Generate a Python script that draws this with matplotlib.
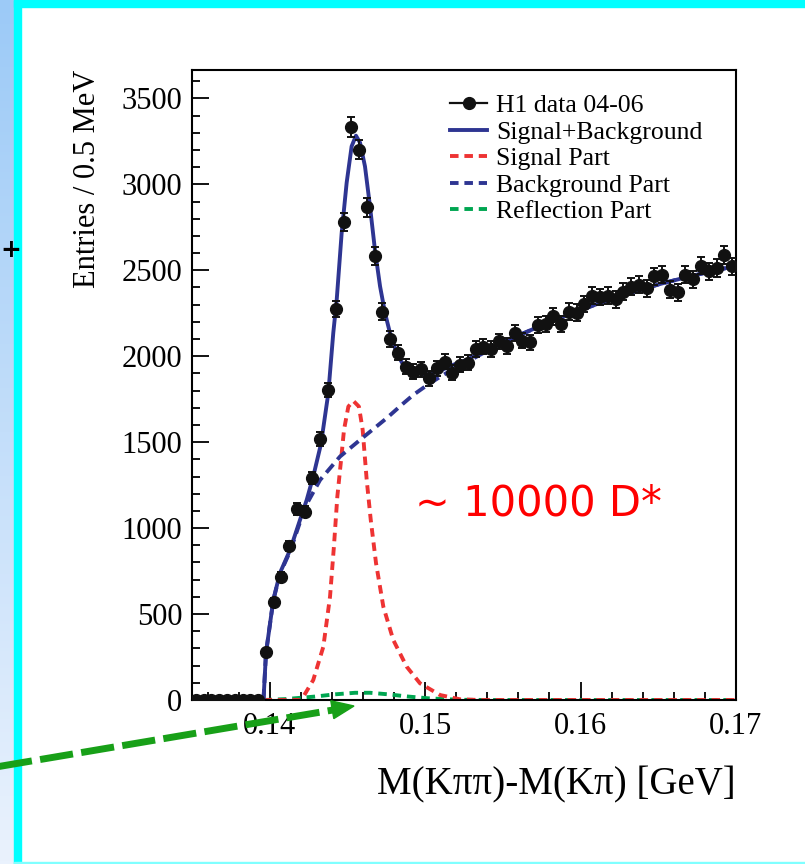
import numpy as np
import matplotlib
matplotlib.use("Agg")
import matplotlib.pyplot as plt
from matplotlib.lines import Line2D
from matplotlib.patches import Rectangle, Polygon
from matplotlib.colors import LinearSegmentedColormap

plt.rcParams['font.family'] = ['Liberation Serif', 'DejaVu Serif']

# delta-M histogram, 0.5 MeV bins starting at 0.135 GeV
bin_lo = 0.135
bin_width = 0.0005
counts = [0, 0, 0, 0, 0, 0, 0, 0, 0,
          279, 570, 718, 896, 1112, 1096, 1292, 1518, 1804, 2274,
          2780, 3331, 3201, 2866, 2584, 2260, 2100, 2021, 1940, 1909,
          1925, 1872, 1931, 1969, 1905, 1950, 1963, 2041, 2056, 2041,
          2086, 2060, 2134, 2091, 2080, 2183, 2189, 2231, 2189, 2260,
          2254, 2305, 2352, 2344, 2352, 2330, 2376, 2405, 2416, 2396,
          2464, 2474, 2386, 2371, 2474, 2449, 2526, 2493, 2513, 2590,
          2522]

# fit components (GeV, entries)
sb_x = [0.1350, 0.13960, 0.13976, 0.14023, 0.14066, 0.14131, 0.14195, 0.14238,
        0.14280, 0.14330, 0.14377, 0.14409, 0.14431, 0.14463, 0.14495, 0.14527,
        0.14555, 0.14581, 0.14613, 0.14645, 0.14677, 0.14710, 0.14742, 0.14774,
        0.14817, 0.14859, 0.14924, 0.15010, 0.15096, 0.15181, 0.15267, 0.15353,
        0.15439, 0.15546, 0.15739, 0.15932, 0.16125, 0.16318, 0.16511, 0.16704,
        0.16897, 0.1700]
sb_y = [0, 0, 273, 582, 739, 873, 1048, 1164,
        1300, 1490, 1785, 2136, 2328, 2718, 3009, 3221,
        3283, 3242, 3104, 2873, 2619, 2406, 2251, 2134,
        2018, 1950, 1910, 1892, 1915, 1950, 1979, 2018,
        2056, 2100, 2175, 2245, 2310, 2368, 2420, 2465,
        2505, 2525]

bg_x = [0.13960, 0.13976, 0.14023, 0.14066, 0.14131, 0.14195, 0.14238, 0.14324,
        0.14452, 0.14581, 0.14753, 0.14859, 0.14924, 0.15010, 0.15096, 0.15181,
        0.15267, 0.15353, 0.15439, 0.15546, 0.15739, 0.15932, 0.16125, 0.16318,
        0.16511, 0.16704, 0.16897, 0.1700]
bg_y = [0, 273, 580, 735, 865, 1035, 1140, 1280,
        1416, 1513, 1640, 1725, 1775, 1830, 1880, 1925,
        1965, 2008, 2050, 2098, 2175, 2245, 2310, 2368,
        2420, 2465, 2505, 2525]

sig_x = [0.13960, 0.14195, 0.14216, 0.14280, 0.14345, 0.14388, 0.14413, 0.14435,
         0.14457, 0.14478, 0.14506, 0.14538, 0.14574, 0.14598, 0.14624, 0.14650,
         0.14684, 0.14731, 0.14795, 0.14881, 0.14967, 0.15096, 0.15224, 0.15353,
         0.1700]
sig_y = [0, 0, 19, 116, 310, 601, 892, 1183,
         1378, 1572, 1707, 1740, 1707, 1572, 1280, 1048,
         796, 543, 349, 194, 97, 29, 4, 0,
         0]

refl_x = [0.13960, 0.14098, 0.14291, 0.14420, 0.14549, 0.14646, 0.14762, 0.14891,
          0.15019, 0.15148, 0.15258, 0.15450, 0.1700]
refl_y = [0, 5, 20, 33, 42, 42, 33, 20, 10, 4, 1, 0, 0]

counts = np.array(counts, dtype=float)
centers = bin_lo + bin_width * (np.arange(len(counts)) + 0.5)
errors = np.sqrt(counts)

W, H = 805, 864
fig = plt.figure(figsize=(W / 100, H / 100), dpi=100)

# slide frame: blue gradient, cyan borders
grad = fig.add_axes([0, 0, 14 / W, 1])
grad.imshow(np.linspace(0, 1, 256).reshape(-1, 1), aspect='auto',
            cmap=LinearSegmentedColormap.from_list('side', ['#9ccaf7', '#eaf2fd']))
grad.axis('off')
fig.patches.append(Rectangle((14 / W, 0), 7 / W, 1, transform=fig.transFigure,
                             color='#00ffff', zorder=0))
fig.patches.append(Rectangle((14 / W, 1 - 7 / H), 1, 7 / H, transform=fig.transFigure,
                             color='#00ffff', zorder=0))
fig.patches.append(Rectangle((14 / W, 0), 1, 2 / H, transform=fig.transFigure,
                             color='#80ffff', zorder=0))
fig.text(0, 1 - 250 / H, '+', fontsize=18, fontweight='bold', family='DejaVu Sans',
         ha='left', va='center')

ax = fig.add_axes([192 / W, 164 / H, 544 / W, 630 / H])

navy = '#2e3592'
red = '#ee3333'
green = '#00a651'
ax.plot(refl_x, refl_y, color=green, lw=2.8, dashes=(2.2, 1.5))
ax.plot(sig_x, sig_y, color=red, lw=2.8, dashes=(2.2, 1.5))
ax.plot(bg_x, bg_y, color=navy, lw=2.8, dashes=(2.8, 1.6))
ax.plot(sb_x, sb_y, color=navy, lw=2.8)
ax.errorbar(centers, counts, yerr=errors, fmt='o', color='#111111', ms=8.5,
            elinewidth=1.4, capsize=3.2, capthick=1.4, zorder=5)

ax.set_xlim(0.135, 0.17)
ax.set_ylim(0, 3665)
ax.set_xticks([0.14, 0.15, 0.16, 0.17])
ax.set_xticks(np.arange(0.136, 0.1701, 0.002), minor=True)
ax.set_yticks(np.arange(0, 3501, 500))
ax.set_yticks(np.arange(0, 3601, 100), minor=True)
ax.tick_params(which='both', direction='in', top=False, right=False, width=1.3,
               labelsize=22)
ax.tick_params(axis='x', which='major', length=13, pad=9)
ax.tick_params(axis='x', which='minor', length=6)
ax.tick_params(axis='y', which='major', length=12, pad=7)
ax.tick_params(axis='y', which='minor', length=6)
for sp in ax.spines.values():
    sp.set_linewidth(1.5)

ax.set_xlabel('M(Kππ)-M(Kπ) [GeV]', fontsize=28, loc='right')
ax.set_ylabel('Entries / 0.5 MeV', fontsize=22, loc='top')
ax.yaxis.set_label_coords(-0.165, 1.0)
ax.xaxis.set_label_coords(1.0, -0.105)

handles = [Line2D([], [], color='#111111', marker='o', ms=8.5, lw=1.6),
           Line2D([], [], color=navy, lw=2.8),
           Line2D([], [], color=red, lw=2.8, dashes=(2.2, 1.5)),
           Line2D([], [], color=navy, lw=2.8, dashes=(2.2, 1.5)),
           Line2D([], [], color=green, lw=2.8, dashes=(2.2, 1.5))]
labels = ['H1 data 04-06', 'Signal+Background', 'Signal Part',
          'Background Part', 'Reflection Part']
fig.legend(handles, labels, loc='upper left', bbox_to_anchor=(450 / W, 1 - 94 / H),
           frameon=False, fontsize=18.5, labelspacing=0.14, handlelength=1.45,
           handletextpad=0.35, borderpad=0, borderaxespad=0)

fig.text(415 / W, 1 - 516 / H, '~ 10000 D*', color='#ff0000', fontsize=30,
         family='DejaVu Sans', ha='left', va='baseline')

# green pointer towards the reflection bump
shaft = Line2D([-10 / W, 333 / W], [1 - 768 / H, 1 - 710 / H], transform=fig.transFigure,
               color='#18a018', lw=5, dashes=(4.8, 1.2), zorder=20)
fig.add_artist(shaft)
head = Polygon([(354 / W, 1 - 706 / H), (333.8 / W, 1 - 718.6 / H), (330.8 / W, 1 - 700.8 / H)],
               closed=True, transform=fig.transFigure, color='#18a018', zorder=20)
fig.add_artist(head)

fig.savefig('out.png', dpi=100)
